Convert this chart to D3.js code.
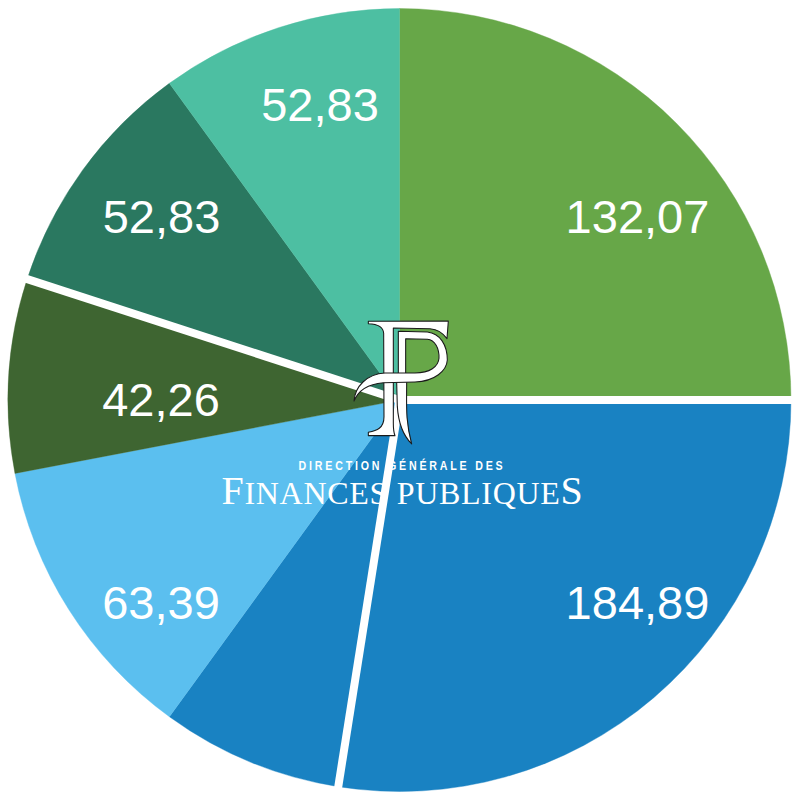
<!DOCTYPE html>
<html>
<head>
<meta charset="utf-8">
<script src="https://cdn.jsdelivr.net/npm/d3@7"></script>
<style>
  html, body { margin: 0; padding: 0; background: #fff; }
  svg { display: block; }
</style>
</head>
<body>
<svg id="chart" width="799" height="800"></svg>
<script>
// values, clockwise from 12 o'clock. the 184,89 block is cut in two parts
let sliceValues = [132.07, 145.27, 39.62, 63.39, 42.26, 52.83, 52.83];
let sliceLabels = ["132,07", "184,89", "", "63,39", "42,26", "52,83", "52,83"];
let sliceColors = ["#67a748", "#1982c2", "#1982c2", "#5bbfef", "#3e6531", "#2a7860", "#4dbfa2"];
// slices which get a white cut on their leading edge
let cutBefore = [1, 2, 5];

const cx = 399.5, cy = 400, radius = 391.5;

// label spots relative to the centre, these were placed by hand in the original
let labelSpots = [[238, -167], [238, 219], null, [-238.5, 219], [-238.5, 16], [-238, -167], [-79.5, -279]];

let canvas = d3.select("#chart");
let pie = d3.pie().sort(null).value((d) => d);
let arc = d3.arc().innerRadius(0).outerRadius(radius);
let arcs = pie(sliceValues);

let chart = canvas.append("g").attr("transform", `translate(${cx},${cy})`);

chart.selectAll("path.slice")
  .data(arcs)
  .enter()
  .append("path")
  .attr("class", "slice")
  .attr("d", arc)
  .attr("fill", (d, i) => sliceColors[i])
  .attr("stroke", (d, i) => sliceColors[i])
  .attr("stroke-width", 0.4);

chart.selectAll("line.cut")
  .data(cutBefore)
  .enter()
  .append("line")
  .attr("class", "cut")
  .attr("x1", 0)
  .attr("y1", 0)
  .attr("x2", (i) => Math.sin(arcs[i].startAngle) * (radius + 8))
  .attr("y2", (i) => -Math.cos(arcs[i].startAngle) * (radius + 8))
  .attr("stroke", "#fff")
  .attr("stroke-width", 8);

chart.selectAll("text.value")
  .data(arcs)
  .enter()
  .append("text")
  .attr("class", "value")
  .attr("x", (d, i) => labelSpots[i] ? labelSpots[i][0] : 0)
  .attr("y", (d, i) => labelSpots[i] ? labelSpots[i][1] : 0)
  .attr("text-anchor", "middle")
  .attr("font-family", "Liberation Sans")
  .attr("font-size", 47)
  .attr("fill", "#fff")
  .text((d, i) => sliceLabels[i]);

// DGFiP logo
let logo = canvas.append("g").attr("transform", "translate(340,310) scale(0.3333)");
let logoShapes = [
  // tail stem
  "M170,215 L200,215 C200,290 196,330 215,402 C188,375 175,335 172,290 Z",
  // F bar and stem
  "M85,34 L325,33 L321,86 C310,70 295,58 270,56 L160,54 L160,340 C160,358 162,370 165,377 L85,377 L85,367 C110,362 132,355 132,320 L131,70 C130,50 115,42 85,41 Z",
  // P stem, bowl and swash, with the counter cut out
  "M175,64 L262,66 C300,70 322,105 322,150 C320,182 285,214 225,216 L130,218 C85,222 55,240 42,273 C45,230 80,192 135,189 L175,189 Z " +
    "M197,86 L262,88 C285,90 298,115 297,145 C295,170 270,189 225,189 L197,189 Z M175,189 L197,189"
];
logo.selectAll("path")
  .data(logoShapes)
  .enter()
  .append("path")
  .attr("d", (d) => d)
  .attr("fill", "#fff")
  .attr("fill-rule", "evenodd")
  .attr("stroke", "#1a1a1a")
  .attr("stroke-width", 3.2)
  .attr("stroke-linejoin", "round");

canvas.append("text")
  .attr("transform", "translate(402,469.5) scale(0.82,1)")
  .attr("text-anchor", "middle")
  .attr("font-family", "Liberation Sans")
  .attr("font-weight", "bold")
  .attr("font-size", 13)
  .attr("letter-spacing", 3.4)
  .attr("fill", "#fff")
  .text("DIRECTION GÉNÉRALE DES");

let bigName = canvas.append("text")
  .attr("x", 402.5)
  .attr("y", 503.5)
  .attr("text-anchor", "middle")
  .attr("font-family", "Liberation Serif")
  .attr("font-size", 32)
  .attr("letter-spacing", 0.7)
  .attr("fill", "#fff");
bigName.append("tspan").attr("font-size", 40).text("F");
bigName.append("tspan").text("INANCES PUBLIQUE");
bigName.append("tspan").attr("font-size", 40).text("S");
</script>
</body>
</html>
